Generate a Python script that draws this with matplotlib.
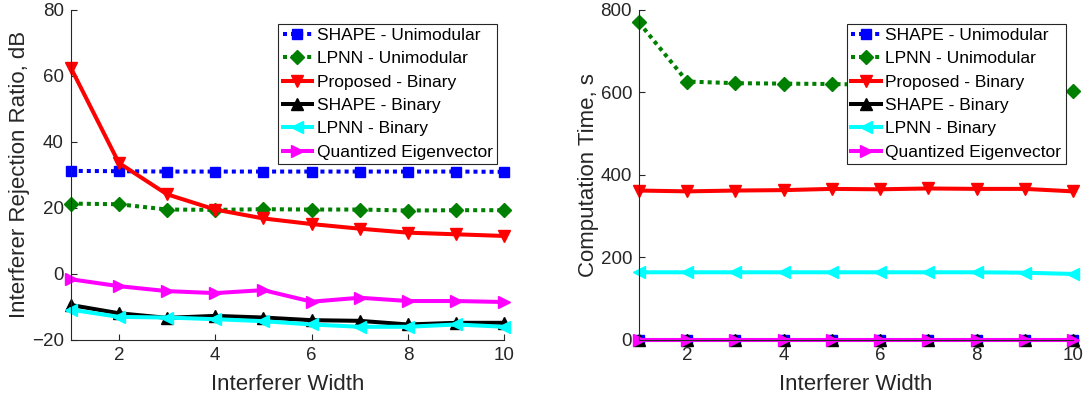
import matplotlib
matplotlib.use("Agg")
import matplotlib.pyplot as plt
import numpy as np

plt.rcParams['font.family'] = ['Liberation Sans', 'DejaVu Sans']

x = [1, 2, 3, 4, 5, 6, 7, 8, 9, 10]

labels = ["SHAPE - Unimodular", "LPNN - Unimodular", "Proposed - Binary",
          "SHAPE - Binary", "LPNN - Binary", "Quantized Eigenvector"]

# Left panel: Interferer Rejection Ratio, dB
irr_shape_uni = [31.2, 31.1, 31.0, 31.0, 31.0, 31.0, 31.0, 31.0, 31.0, 30.9]
irr_lpnn_uni = [21.3, 21.1, 19.5, 19.4, 19.6, 19.5, 19.5, 19.2, 19.3, 19.3]
irr_prop_bin = [62.5, 33.6, 24.1, 19.5, 16.8, 15.1, 13.7, 12.5, 12.0, 11.5]
irr_shape_bin = [-9.4, -11.9, -13.3, -12.7, -13.2, -14.0, -14.2, -15.3, -14.8, -14.8]
irr_lpnn_bin = [-10.8, -13.0, -13.2, -13.7, -14.3, -15.3, -16.0, -16.0, -15.3, -16.0]
irr_quant = [-1.6, -3.7, -5.2, -5.8, -4.9, -8.4, -7.2, -8.2, -8.2, -8.5]

# Right panel: Computation Time, s
ct_shape_uni = [0.8, 0.8, 0.8, 0.8, 0.8, 0.8, 0.8, 0.8, 0.8, 0.8]
ct_lpnn_uni = [769, 626, 622, 621, 620, 618, 616, 612, 609, 604]
ct_prop_bin = [362, 360, 362, 363, 366, 365, 367, 366, 366, 360]
ct_shape_bin = [1.0, 1.0, 1.0, 1.0, 1.0, 1.0, 1.0, 1.0, 1.0, 1.0]
ct_lpnn_bin = [164, 164, 164, 164, 164, 164, 164, 164, 163, 160]
ct_quant = [0.5, 0.5, 0.5, 0.5, 0.5, 0.5, 0.5, 0.5, 0.5, 0.5]

xticks = [2, 4, 6, 8, 10]
irr_yticks = [-20, 0, 20, 40, 60, 80]
ct_yticks = [0, 200, 400, 600, 800]

styles = [
    dict(color=(0, 0, 1), linestyle=(0, (1, 1)), marker='s', ms=6.5, dash_capstyle='butt'),
    dict(color=(0, 0.5, 0), linestyle=(0, (1, 1)), marker='D', ms=7.5, dash_capstyle='butt'),
    dict(color=(1, 0, 0), linestyle='-', marker='v', ms=9),
    dict(color=(0, 0, 0), linestyle='-', marker='^', ms=9),
    dict(color=(0, 1, 1), linestyle='-', marker='<', ms=9),
    dict(color=(1, 0, 1), linestyle='-', marker='>', ms=9),
]

fig = plt.figure(figsize=(10.89, 4.0), dpi=100)
ax1 = fig.add_axes([70.7 / 1089, 60 / 400, (504.3 - 70.7) / 1089, 330.3 / 400])
ax2 = fig.add_axes([639 / 1089, 60 / 400, (1073 - 639) / 1089, 330.3 / 400])

axcol = (0.15, 0.15, 0.15)


def draw(ax, series, yticks, ylim, ylabel):
    for ys, st, lab in zip(series, styles, labels):
        ax.plot(x, ys, lw=2.9, label=lab, markeredgecolor=st['color'],
                markerfacecolor=st['color'], clip_on=False, **st)
    ax.set_xlim(1, 10)
    ax.set_ylim(*ylim)
    ax.set_xticks(xticks)
    ax.set_yticks(yticks)
    for s in ['top', 'right']:
        ax.spines[s].set_visible(False)
    for s in ['left', 'bottom']:
        ax.spines[s].set_color(axcol)
        ax.spines[s].set_linewidth(0.8)
    ax.tick_params(direction='in', length=4, width=0.8, colors=axcol,
                   labelsize=13.5, labelcolor=axcol, pad=5)
    ax.set_xlabel("Interferer Width", fontsize=16, color=axcol, labelpad=7)
    ax.set_ylabel(ylabel, fontsize=16, color=axcol, labelpad=1)
    leg = ax.legend(loc='upper right', bbox_to_anchor=(0.983, 0.958), fontsize=12.5,
                    frameon=True, fancybox=False, edgecolor=axcol, framealpha=1,
                    handlelength=1.7, handletextpad=0.25, borderpad=0.25,
                    labelspacing=0.47, borderaxespad=0)
    leg.get_frame().set_linewidth(0.8)


draw(ax1, [irr_shape_uni, irr_lpnn_uni, irr_prop_bin, irr_shape_bin, irr_lpnn_bin, irr_quant],
     irr_yticks, (-20, 80), "Interferer Rejection Ratio, dB")
draw(ax2, [ct_shape_uni, ct_lpnn_uni, ct_prop_bin, ct_shape_bin, ct_lpnn_bin, ct_quant],
     ct_yticks, (0, 800), "Computation Time, s")

fig.savefig("out.png", dpi=100)
